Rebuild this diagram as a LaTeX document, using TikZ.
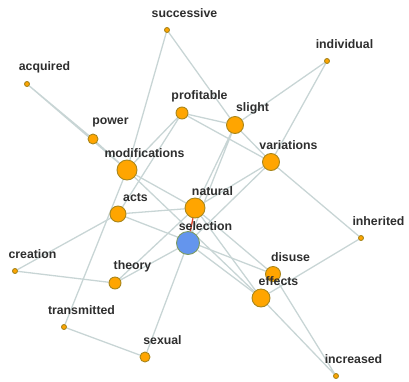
\documentclass[tikz,border=0pt]{standalone}
\usepackage{fontspec}
\setmainfont{Liberation Sans}
\usepackage{xcolor,tikz}
\usetikzlibrary{backgrounds}
\definecolor{wordfill}{HTML}{FFA500}
\definecolor{wordline}{HTML}{A8861C}
\definecolor{selfill}{HTML}{6495ED}
\definecolor{selline}{HTML}{7C9A62}
\definecolor{linkcol}{HTML}{C8D5D5}
\definecolor{redlink}{HTML}{E0452B}
\definecolor{txtcol}{HTML}{2E2E2E}
\tikzset{
  word/.style={circle,draw=wordline,fill=wordfill,line width=0.9pt,inner sep=0pt,minimum size=#1},
  lbl/.style={txtcol,font=\fontsize{12.3}{14}\selectfont\bfseries,xshift=17.5pt,yshift=16.5pt},
  link/.style={linkcol,line width=1.3pt}
}

\begin{document}
\begin{tikzpicture}[x=1pt,y=-1pt]
\useasboundingbox (0,0) rectangle (409,381);
% words
\node[word=5pt,label={[lbl]center:successive}] (successive) at (167,30) {};
\node[word=5pt,label={[lbl]center:acquired}] (acquired) at (27,84) {};
\node[word=5pt,label={[lbl]center:individual}] (individual) at (327,61) {};
\node[word=10pt,label={[lbl]center:power}] (power) at (93,139) {};
\node[word=12pt,label={[lbl]center:profitable}] (profitable) at (182,113) {};
\node[word=17pt,label={[lbl]center:slight}] (slight) at (235,125) {};
\node[word=20pt,label={[lbl]center:modifications}] (modifications) at (127,170) {};
\node[word=17pt,label={[lbl]center:variations}] (variations) at (271,162) {};
\node[word=20pt,label={[lbl]center:natural}] (natural) at (195,208) {};
\node[word=16pt,label={[lbl]center:acts}] (acts) at (118,214) {};
\node[word=23pt,draw=selline,fill=selfill,label={[lbl]center:selection}] (selection) at (188,243) {};
\node[word=5pt,label={[lbl]center:creation}] (creation) at (15,271) {};
\node[word=12pt,label={[lbl]center:theory}] (theory) at (115,283) {};
\node[word=5pt,label={[lbl]center:inherited}] (inherited) at (361,238) {};
\node[word=15pt,label={[lbl]center:disuse}] (disuse) at (273,274) {};
\node[word=18pt,label={[lbl]center:effects}] (effects) at (261,298) {};
\node[word=5pt,label={[lbl]center:transmitted}] (transmitted) at (64,327) {};
\node[word=10pt,label={[lbl]center:sexual}] (sexual) at (145,357) {};
\node[word=5pt,label={[lbl]center:increased}] (increased) at (336,376) {};
% links
\begin{scope}[on background layer]
\draw[link] (acquired)--(power) (acquired)--(modifications) (power)--(modifications);
\draw[link] (successive)--(modifications) (successive)--(slight);
\draw[link] (profitable)--(modifications) (profitable)--(acts) (profitable)--(slight) (profitable)--(variations);
\draw[link] (individual)--(slight) (individual)--(variations) (slight)--(variations);
\draw[link] (slight)--(natural) (slight)--(selection) (variations)--(natural) (variations)--(selection);
\draw[link] (variations)--(inherited) (inherited)--(effects);
\draw[link] (modifications)--(natural) (modifications)--(effects) (modifications)--(transmitted);
\draw[link] (acts)--(natural) (acts)--(disuse) (acts)--(creation);
\draw[link] (creation)--(theory) (theory)--(selection) (theory)--(natural);
\draw[link] (transmitted)--(sexual) (sexual)--(selection);
\draw[link] (natural)--(disuse) (natural)--(effects) (selection)--(effects);
\draw[link] (increased)--(effects) (increased)--(disuse);
\draw[redlink,line width=1.3pt] (natural)--(selection);
\end{scope}
\end{tikzpicture}
\end{document}
